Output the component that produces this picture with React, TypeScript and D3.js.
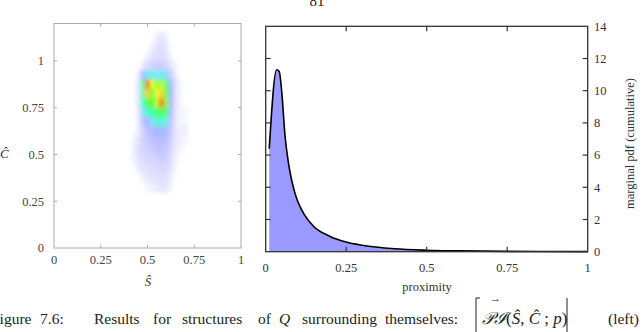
import * as d3 from "d3";
import React from "react";

// marginal pdf of proximity (right panel)
const proximity = [0.011, 0.034, 0.042, 0.05, 0.06, 0.07, 0.08, 0.09, 0.1, 0.12, 0.15, 0.2, 0.25, 0.3, 0.4, 0.5, 0.6, 0.75, 1.0];
const marginalPdf = [6.4, 11.3, 11.2, 9.9, 7.2, 5.6, 4.5, 3.7, 3.1, 2.3, 1.55, 0.95, 0.6, 0.4, 0.18, 0.09, 0.05, 0.02, 0.005];

// joint density of (S, C) on a coarse grid (left panel)
const sBins = [0.425, 0.45, 0.475, 0.5, 0.525, 0.55, 0.575, 0.6, 0.625, 0.65, 0.675, 0.7];
const cBins = [1.125, 1.075, 1.025, 0.975, 0.925, 0.875, 0.825, 0.775, 0.725, 0.675, 0.625, 0.575, 0.525, 0.475, 0.425, 0.375, 0.325];
const density = [
  [0, 0, 0, 0, 0, 0.04, 0.06, 0.03, 0, 0, 0, 0],
  [0, 0, 0, 0, 0.03, 0.06, 0.08, 0.05, 0, 0, 0, 0],
  [0, 0, 0, 0.03, 0.06, 0.08, 0.08, 0.06, 0.02, 0, 0, 0],
  [0, 0, 0.04, 0.1, 0.12, 0.14, 0.14, 0.12, 0.06, 0.02, 0, 0],
  [0, 0.03, 0.3, 0.45, 0.45, 0.42, 0.45, 0.4, 0.15, 0.04, 0, 0],
  [0, 0.05, 0.55, 0.95, 0.8, 0.7, 0.75, 0.6, 0.3, 0.06, 0.02, 0],
  [0, 0.05, 0.55, 0.85, 0.65, 0.8, 0.85, 0.65, 0.3, 0.06, 0.02, 0],
  [0, 0.05, 0.5, 0.65, 0.65, 0.75, 0.95, 0.7, 0.3, 0.05, 0.02, 0],
  [0, 0.04, 0.4, 0.5, 0.55, 0.6, 0.62, 0.6, 0.25, 0.05, 0.02, 0.02],
  [0, 0.03, 0.2, 0.3, 0.4, 0.48, 0.48, 0.45, 0.2, 0.05, 0.02, 0.02],
  [0, 0.03, 0.12, 0.2, 0.25, 0.3, 0.32, 0.28, 0.15, 0.05, 0.03, 0.04],
  [0.02, 0.06, 0.12, 0.15, 0.2, 0.22, 0.24, 0.2, 0.12, 0.05, 0.03, 0.02],
  [0.03, 0.08, 0.1, 0.12, 0.14, 0.18, 0.18, 0.15, 0.1, 0.04, 0.02, 0],
  [0.02, 0.06, 0.08, 0.1, 0.1, 0.12, 0.14, 0.12, 0.08, 0.03, 0, 0],
  [0, 0.04, 0.06, 0.07, 0.08, 0.09, 0.1, 0.1, 0.06, 0.02, 0, 0],
  [0, 0, 0.03, 0.05, 0.06, 0.06, 0.08, 0.07, 0.04, 0, 0, 0],
  [0, 0, 0, 0.02, 0.03, 0.04, 0.06, 0.05, 0.02, 0, 0, 0],
];

const unitTicks = [0, 0.25, 0.5, 0.75, 1];
const pdfTicks = [0, 2, 4, 6, 8, 10, 12, 14];

const serif = "'Liberation Serif', 'DejaVu Serif', serif";

const App = () => {
  // left panel scales
  const sx = d3.scaleLinear().domain([0, 1]).range([54, 241]);
  const cy = d3.scaleLinear().domain([0, 1.2]).range([248, 23.5]);
  const heat = d3
    .scaleLinear<string>()
    .domain([0, 0.05, 0.16, 0.3, 0.42, 0.52, 0.66, 0.8, 0.9, 1])
    .range(["#ffffff", "#e6e6ff", "#c6c6ff", "#a6b6ff", "#7fe6ff", "#3cffc0", "#5cff3c", "#f4ff30", "#ff9a1e", "#e0280a"])
    .clamp(true);
  const cw = sx(0.025) - sx(0);
  const ch = cy(0) - cy(0.05);

  // right panel scales
  const px = d3.scaleLinear().domain([0, 1]).range([265.7, 587.7]);
  const py = d3.scaleLinear().domain([0, 14]).range([251.7, 26.3]);
  const pts = proximity.map((p, i) => [p, marginalPdf[i]] as [number, number]);
  const area = d3
    .area<[number, number]>()
    .x((d) => px(d[0]))
    .y0(py(0))
    .y1((d) => py(d[1]))
    .curve(d3.curveMonotoneX);
  const line = d3
    .line<[number, number]>()
    .x((d) => px(d[0]))
    .y((d) => py(d[1]))
    .curve(d3.curveMonotoneX);

  const [x0, x1] = sx.range();
  const [y0, y1] = cy.range();
  const [rx0, rx1] = px.range();
  const [ry0, ry1] = py.range();

  return (
    <svg width={642} height={332} style={{ position: "absolute", left: 0, top: 0, background: "#fff" }} fontFamily={serif}>
      <defs>
        <filter id="soft" x="-20%" y="-20%" width="140%" height="140%">
          <feGaussianBlur stdDeviation="2.2" />
        </filter>
        <clipPath id="leftClip">
          <rect x={x0} y={y1} width={x1 - x0} height={y0 - y1} />
        </clipPath>
      </defs>

      <text x={317} y={6} textAnchor="middle" fontSize={15} fill="#222">81</text>

      {/* left panel: density heatmap */}
      <g clipPath="url(#leftClip)">
        <g filter="url(#soft)">
          {density.map((row, r) =>
            row.map((v, c) => (
              <rect
                key={`${r}-${c}`}
                x={sx(sBins[c] - 0.0125)}
                y={cy(cBins[r] + 0.025)}
                width={cw + 0.5}
                height={ch + 0.5}
                fill={heat(v)}
              />
            ))
          )}
        </g>
      </g>
      <rect x={x0} y={y1} width={x1 - x0} height={y0 - y1} fill="none" stroke="#aaa" strokeWidth={1} />
      {unitTicks.slice(1, -1).map((t) => (
        <g key={`sx${t}`} stroke="#aaa">
          <line x1={sx(t)} x2={sx(t)} y1={y0} y2={y0 - 3} />
          <line x1={sx(t)} x2={sx(t)} y1={y1} y2={y1 + 3} />
        </g>
      ))}
      {[0.25, 0.5, 0.75, 1].map((t) => (
        <g key={`cy${t}`} stroke="#aaa">
          <line x1={x0} x2={x0 + 3} y1={cy(t)} y2={cy(t)} />
          <line x1={x1} x2={x1 - 3} y1={cy(t)} y2={cy(t)} />
        </g>
      ))}
      {unitTicks.map((t) => (
        <text key={`sl${t}`} x={sx(t)} y={264} textAnchor="middle" fontSize={12.5} fill="#444">
          {d3.format("~g")(t)}
        </text>
      ))}
      {unitTicks.map((t) => (
        <text key={`cl${t}`} x={44} y={cy(t) + 4.3} textAnchor="end" fontSize={12.5} fill="#444">
          {d3.format("~g")(t)}
        </text>
      ))}
      <text x={148} y={286} textAnchor="middle" fontSize={13} fontStyle="italic" fill="#333">Ŝ</text>
      <text x={0} y={158} fontSize={13} fontStyle="italic" fill="#333">Ĉ</text>

      {/* right panel: marginal pdf */}
      <path d={area(pts) ?? ""} fill="#9999ff" />
      <path d={line(pts) ?? ""} fill="none" stroke="#000" strokeWidth={1.6} strokeLinejoin="round" />
      <rect x={rx0} y={ry1} width={rx1 - rx0} height={ry0 - ry1} fill="none" stroke="#333" strokeWidth={1.3} />
      {unitTicks.slice(1, -1).map((t) => (
        <g key={`px${t}`} stroke="#333" strokeWidth={1.2}>
          <line x1={px(t)} x2={px(t)} y1={ry0} y2={ry0 - 5} />
          <line x1={px(t)} x2={px(t)} y1={ry1} y2={ry1 + 5} />
        </g>
      ))}
      {pdfTicks.slice(1, -1).map((t) => (
        <g key={`py${t}`} stroke="#333" strokeWidth={1.2}>
          <line x1={rx0} x2={rx0 + 5} y1={py(t)} y2={py(t)} />
          <line x1={rx1} x2={rx1 - 5} y1={py(t)} y2={py(t)} />
        </g>
      ))}
      {unitTicks.map((t) => (
        <text key={`pl${t}`} x={px(t)} y={272} textAnchor="middle" fontSize={12.5} fill="#333">
          {d3.format("~g")(t)}
        </text>
      ))}
      {pdfTicks.map((t) => (
        <text key={`yl${t}`} x={594} y={py(t) + 4.3} fontSize={12.5} fill="#333">
          {t}
        </text>
      ))}
      <text x={427} y={291} textAnchor="middle" fontSize={12.5} fill="#333">proximity</text>
      <text
        transform="translate(634,143.5) rotate(-90)"
        textAnchor="middle"
        fontSize={12.5}
        fill="#333"
      >
        marginal pdf (cumulative)
      </text>

      {/* caption */}
      <g fontSize={15.5} fill="#222">
        <text x={-9} y={324}>Figure</text>
        <text x={40} y={324}>7.6:</text>
        <text x={94} y={324}>Results</text>
        <text x={153} y={324}>for</text>
        <text x={182} y={324}>structures</text>
        <text x={258} y={324}>of</text>
        <text x={279} y={324} fontStyle="italic">Q</text>
        <text x={302} y={324}>surrounding</text>
        <text x={385} y={324}>themselves:</text>
        <path d="M480,298 L476,298 L476,334 M567,298 L567,334" fill="none" stroke="#222" strokeWidth={1} />
        <text x={490} y={302} fontSize={11}>→</text>
        <text x={482} y={324} fontSize={17}>
          <tspan fontStyle="italic">𝒫ℐ</tspan>
          <tspan>(</tspan>
          <tspan fontStyle="italic">Ŝ</tspan>
          <tspan>, </tspan>
          <tspan fontStyle="italic">Ĉ</tspan>
          <tspan> ; </tspan>
          <tspan fontStyle="italic">p</tspan>
          <tspan>)</tspan>
        </text>
        <text x={608} y={324}>(left)</text>
      </g>
    </svg>
  );
};

export default App;
